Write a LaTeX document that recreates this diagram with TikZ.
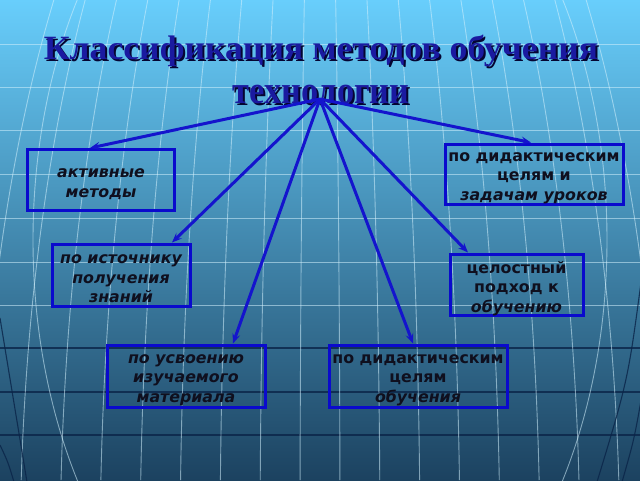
\documentclass[tikz,border=0pt]{standalone}
\usepackage{fontspec}
\usetikzlibrary{arrows.meta,calc}
\newfontfamily\titlefont{Liberation Serif}
\newfontfamily\boxfont{DejaVu Sans}
\definecolor{bgtop}{RGB}{104,206,252}
\definecolor{bgmid}{RGB}{50,140,192}
\definecolor{bgbot}{RGB}{28,66,96}
\definecolor{titleblue}{RGB}{26,26,160}
\definecolor{titleshadow}{RGB}{5,5,50}
\definecolor{linkblue}{RGB}{20,20,205}
\definecolor{boxblue}{RGB}{10,10,205}
\definecolor{gridwhite}{RGB}{210,240,252}
\definecolor{griddark}{RGB}{10,36,72}
\definecolor{txt}{RGB}{15,15,30}
\newcommand{\shadowtext}[1]{\rlap{\kern2pt\raisebox{-2pt}{\textcolor{titleshadow}{#1}}}\textcolor{titleblue}{#1}}
\begin{document}
\begin{tikzpicture}[x=1pt,y=-1pt,
  gridw/.style={draw=gridwhite, line width=0.9pt, opacity=0.55},
  gridd/.style={draw=griddark, line width=1.1pt, opacity=0.8},
  catbox/.style={draw=boxblue, line width=3pt, inner sep=0pt},
  boxtext/.style={inner sep=0pt, align=center, text=txt,
    font=\boxfont\bfseries\fontsize{15.8}{19.5}\selectfont},
  link/.style={draw=linkblue, line width=3pt,
    -{Stealth[length=10pt,width=8pt,inset=4pt]}},
  titleA/.style={inner sep=0pt, font=\titlefont\bfseries\fontsize{34}{36}\selectfont, anchor=base},
  titleB/.style={inner sep=0pt, font=\titlefont\bfseries\fontsize{39}{42}\selectfont, anchor=base}]
\useasboundingbox (0,0) rectangle (640,480);
% background
\shade[top color=bgtop, middle color=bgmid, bottom color=bgbot] (0,0) rectangle (640,480);
\begin{scope}
\clip (0,0) rectangle (640,480);
\foreach \yy in {44,87,130,174,218,262,305} \draw[gridw] (0,\yy) -- (640,\yy);
\foreach \yy in {348,392,435} \draw[gridd] (0,\yy) -- (640,\yy);
\foreach \a in {20,60,...,340} {
  \draw[gridw] plot[domain=0:480, samples=25, variable=\t, smooth]
    ({320+\a*sqrt(1-((560-\t)/900)^2)}, \t);
  \draw[gridw] plot[domain=0:480, samples=25, variable=\t, smooth]
    ({320-\a*sqrt(1-((560-\t)/900)^2)}, \t);
}
\draw[gridw] (320,240) ellipse [x radius=287, y radius=450];
\draw[gridd] (0,318) .. controls (14,400) .. (27,482);
\draw[gridd] (0,445) .. controls (8,462) .. (14,482);
\draw[gridd] (642,275) .. controls (628,380) .. (597,482);
\draw[gridd] (642,395) .. controls (634,440) .. (622,482);
\end{scope}
% title
\node[titleA] (t1) at (321,59) {\shadowtext{\scalebox{1.05}[1]{Классификация методов обучения}}};
\node[titleB] (t2) at (321,103) {\shadowtext{\scalebox{0.88}[1]{технологии}}};
% boxes
\node[catbox, minimum width=147pt, minimum height=61pt] (b1) at (101,180) {};
\node[catbox, minimum width=138pt, minimum height=62pt] (b2) at (121,275) {};
\node[catbox, minimum width=158pt, minimum height=62pt] (b3) at (186,376) {};
\node[catbox, minimum width=178pt, minimum height=62pt] (b4) at (418,376) {};
\node[catbox, minimum width=133pt, minimum height=61pt] (b5) at (516.5,284.5) {};
\node[catbox, minimum width=178pt, minimum height=60pt] (b6) at (534,174) {};
\node[boxtext] (b1t) at ($(b1)+(0,4)$) {\itshape активные\\\itshape методы};
\node[boxtext] (b2t) at ($(b2)+(0,4)$) {\itshape по источнику\\\itshape получения\\\itshape знаний};
\node[boxtext] (b3t) at ($(b3)+(0,4)$) {\itshape по усвоению\\\itshape изучаемого\\\itshape материала};
\node[boxtext] (b4t) at ($(b4)+(0,4)$) {по дидактическим\\целям\\\itshape обучения};
\node[boxtext] (b5t) at ($(b5)+(0,4)$) {целостный\\подход к\\\itshape обучению};
\node[boxtext] (b6t) at ($(b6)+(0,4)$) {по дидактическим\\целям и\\\itshape задачам уроков};
% connectors
\coordinate (src) at (320,99);
\draw[link] (src) -- ($(b1.north)+(-11,0)$);
\draw[link] (src) -- ($(b2.north)+(51,0)$);
\draw[link] (src) -- ($(b3.north)+(47,0)$);
\draw[link] (src) -- ($(b4.north)+(-5,0)$);
\draw[link] (src) -- ($(b5.north)+(-48.5,0)$);
\draw[link] (src) -- ($(b6.north)+(-3,0)$);
\end{tikzpicture}
\end{document}
